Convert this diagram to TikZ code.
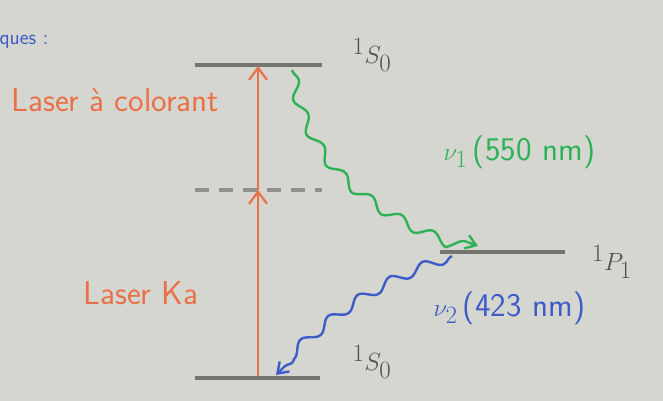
\documentclass[tikz,border=0pt]{standalone}
\usepackage{amsmath}
\usepackage{xcolor}
\usepackage{tikz}
\usetikzlibrary{arrows.meta,decorations.pathmorphing}

\definecolor{boardgray}{RGB}{214,214,209}
\definecolor{levelgray}{RGB}{118,116,112}
\definecolor{pumporange}{RGB}{234,112,72}
\definecolor{fluogreen}{RGB}{46,178,86}
\definecolor{fluoblue}{RGB}{62,92,200}

\begin{document}
\begin{tikzpicture}[
  x=1pt,
  y=-1pt,
  >=Straight Barb,
  every node/.style={font=\sffamily\fontsize{33}{35}\selectfont},
  termlabel/.style={text=levelgray!70!black,font=\sffamily\fontsize{34}{36}\selectfont},
  level/.style={draw=levelgray,line width=4pt},
  virtual/.style={draw=levelgray!80,line width=4pt,dash pattern=on 14pt off 10pt},
  pump/.style={
    draw=pumporange,
    line width=2.2pt,
    arrows={-Straight Barb[length=12pt,width=18pt]}
  },
  photon/.style={
    draw=#1,
    line width=2.4pt,
    arrows={-Straight Barb[length=10pt,width=14pt]},
    decorate,
    decoration={snake,amplitude=5pt,segment length=36pt,post length=10pt}
  }
]

% Whiteboard background, also fixes the margins.
\useasboundingbox (0,0) rectangle (663,401);
\fill[boardgray] (0,0) rectangle (663,401);

% Energy levels.
\coordinate (s0upL) at (195,65);
\coordinate (s0upR) at (322,65);
\coordinate (virtL) at (195,190);
\coordinate (virtR) at (322,190);
\coordinate (p1L) at (440,252);
\coordinate (p1R) at (565,252);
\coordinate (s0dnL) at (195,378);
\coordinate (s0dnR) at (320,378);

\draw[level] (s0upL) -- (s0upR);
\draw[virtual] (virtL) -- (virtR);
\draw[level] (p1L) -- (p1R);
\draw[level] (s0dnL) -- (s0dnR);

% Two-photon pumping.
\coordinate (ground) at (258,376);
\coordinate (halfway) at (258,190);
\coordinate (excited) at (258,66);
\draw[pump] (ground) -- (halfway);
\draw[pump] (halfway) -- (excited);

% Fluorescence cascade.
\coordinate (greenstart) at (292,70);
\coordinate (greenend) at (478,246);
\coordinate (bluestart) at (452,256);
\coordinate (blueend) at (276,375);
\draw[photon=fluogreen] (greenstart) to[out=-80,in=160] (greenend);
\draw[photon=fluoblue] (bluestart) to[out=200,in=45] (blueend);

% Labels.
\node[termlabel] (lbltop) at (372,55) {$^{1}S_{0}$};
\node[termlabel] (lblp) at (612,262) {$^{1}P_{1}$};
\node[termlabel] (lblbot) at (372,362) {$^{1}S_{0}$};
\node[text=fluogreen,anchor=west] (lblnu1) at (440,152) {$\nu_{1}$\,(550\,\,nm)};
\node[text=fluoblue,anchor=west] (lblnu2) at (430,308) {$\nu_{2}$\,(423\,\,nm)};
\node[text=pumporange,anchor=west] (lbldye) at (8,100) {Laser à colorant};
\node[text=pumporange,anchor=west] (lblka) at (80,293) {Laser Ka};
\node[text=fluoblue,anchor=west,font=\sffamily\fontsize{21}{23}\selectfont] (lblhead) at (-4,42) {ques :};

\end{tikzpicture}
\end{document}
